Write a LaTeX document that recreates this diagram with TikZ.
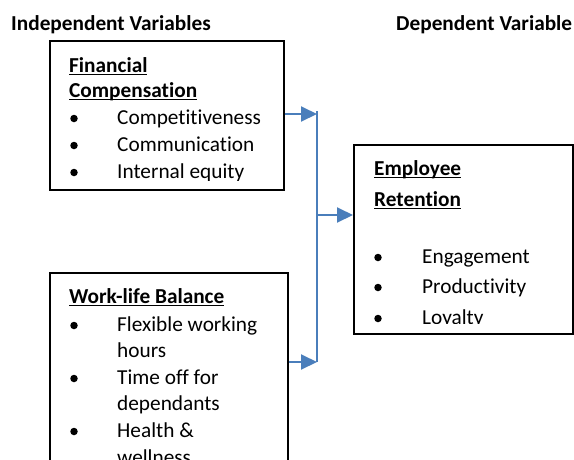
\documentclass[tikz,border=0pt]{standalone}
\usepackage{fontspec}
\setmainfont{Carlito}[Ligatures=NoCommon]
\usetikzlibrary{arrows.meta}

\definecolor{linkblue}{RGB}{74,126,187}
\newsavebox\ulbox
\newcommand\ulin[1]{\sbox\ulbox{#1}\usebox\ulbox\llap{\rule[-3.2pt]{\wd\ulbox}{1.6pt}}}

\tikzset{
    txt/.style={anchor=base west, inner sep=0pt, font=\fontsize{21.3}{26}\selectfont},
    hd/.style={txt, font=\fontsize{21.3}{26}\selectfont\bfseries},
    dot/.style={circle, fill, inner sep=0pt, minimum size=7.5pt},
    box/.style={draw, line width=1.6pt, anchor=north west, inner sep=0pt},
    link/.style={linkblue, line width=2pt},
    arr/.style={link, -{Triangle[length=16pt, width=15pt]}}
}

\begin{document}
\begin{tikzpicture}[x={(1pt,0)}, y={(0,-1pt)}]
    \useasboundingbox (0,0) rectangle (574,459);
    \clip (0,0) rectangle (574,459);

    % headings
    \node[hd] (ivar) at (11,30) {Independent Variables};
    \node[hd] (dvar) at (396,30) {Dependent Variable};

    % boxes
    \node[box, minimum width=234pt, minimum height=149pt] (fin) at (49,40) {};
    \node[box, minimum width=238pt, minimum height=260pt] (wlb) at (49,272) {};
    \node[box, minimum width=219pt, minimum height=189pt] (ret) at (353,144) {};

    % financial compensation
    \begin{scope}
        \clip (50,41) rectangle (282,180);
        \node[hd] (fin1) at (69,72) {\ulin{Financial}};
        \node[hd] (fin2) at (69,97) {\ulin{Compensation}};
        \node[dot] (fb1) at (74,118.5) {};
        \node[txt] (fi1) at (117,124) {Competitiveness};
        \node[dot] (fb2) at (74,145.5) {};
        \node[txt] (fi2) at (117,151) {Communication};
        \node[dot] (fb3) at (74,172.5) {};
        \node[txt] (fi3) at (117,178) {Internal equity};
    \end{scope}

    % work-life balance
    \node[hd] (wlb1) at (69,303) {\ulin{Work-life Balance}};
    \node[dot] (wb1) at (74,325.5) {};
    \node[txt] (wi1) at (117,331) {Flexible working};
    \node[txt] (wi2) at (117,357) {hours};
    \node[dot] (wb2) at (74,378.5) {};
    \node[txt] (wi3) at (117,384) {Time off for};
    \node[txt] (wi4) at (117,410) {dependants};
    \node[dot] (wb3) at (74,431.5) {};
    \node[txt] (wi5) at (117,437) {Health \&};
    \node[txt] (wi6) at (117,464) {wellness};

    % employee retention
    \begin{scope}
        \clip (354,145) rectangle (571,323);
        \node[hd] (ret1) at (374,175) {\ulin{Employee}};
        \node[hd] (ret2) at (374,206) {\ulin{Retention}};
        \node[dot] (rb1) at (378,257.5) {};
        \node[txt] (ri1) at (422,263) {Engagement};
        \node[dot] (rb2) at (378,287.5) {};
        \node[txt] (ri2) at (422,293) {Productivity};
        \node[dot] (rb3) at (378,318.5) {};
        \node[txt] (ri3) at (422,324) {Loyalty};
    \end{scope}

    % connectors
    \coordinate (jtop) at (317,111);
    \coordinate (j1) at (317,114);
    \coordinate (j2) at (317,362);
    \coordinate (j3) at (317,215);
    \draw[link] (jtop) -- (j2);
    \draw[arr] (fin.east |- j1) -- (j1);
    \draw[arr] (wlb.east |- j2) -- (j2);
    \draw[arr] (j3) -- (ret.west |- j3);
\end{tikzpicture}
\end{document}
